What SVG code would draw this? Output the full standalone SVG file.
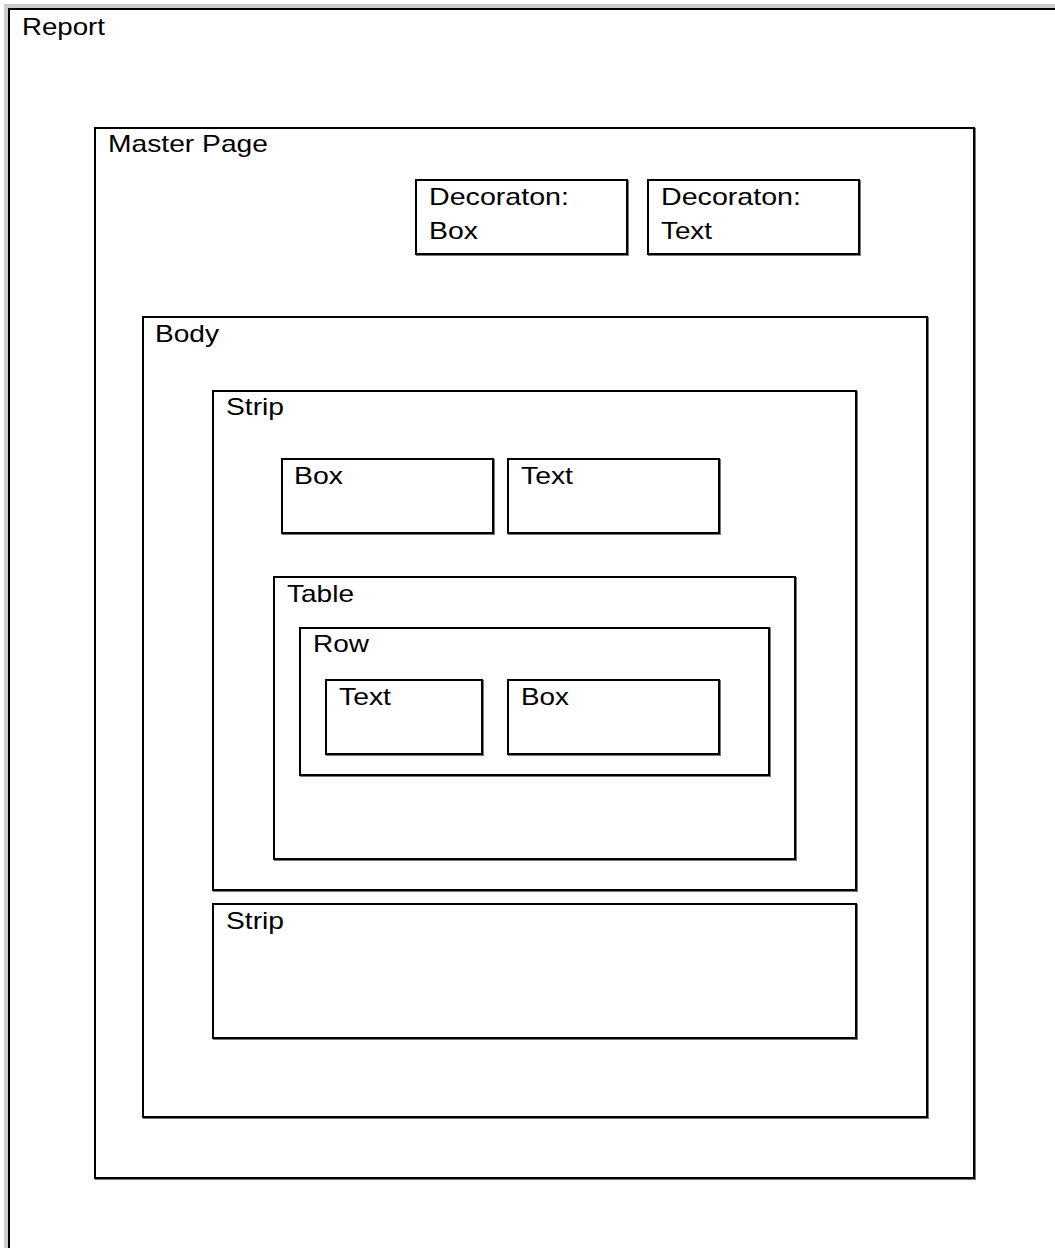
<svg xmlns="http://www.w3.org/2000/svg" width="1055" height="1248" viewBox="0 0 1055 1248">
<style>
.b{fill:#fff;stroke:#000;stroke-width:2}
.s{fill:none;stroke:#777;stroke-width:2}
text{font-family:"Liberation Sans",Arial,sans-serif;font-size:24px;fill:#000}
</style>
<rect x="0" y="0" width="1055" height="1248" fill="#fff"/>
<g id="report">
<rect x="6" y="6" width="1100" height="1300" fill="none" stroke="#ccc" stroke-width="4"/>
<rect class="b" x="9" y="9" width="1100" height="1300"/>
<text x="22" y="35" textLength="83" lengthAdjust="spacingAndGlyphs">Report</text>
</g>
<g id="master">
<rect class="s" x="96" y="129" width="879" height="1050"/>
<rect class="b" x="95" y="128" width="879" height="1050"/>
<text x="108" y="152" textLength="160" lengthAdjust="spacingAndGlyphs">Master Page</text>
</g>
<g id="decoBox">
<rect class="s" x="417" y="181" width="211" height="74"/>
<rect class="b" x="416" y="180" width="211" height="74"/>
<text x="429" y="205" textLength="140" lengthAdjust="spacingAndGlyphs">Decoraton:</text>
<text x="429" y="239" textLength="49" lengthAdjust="spacingAndGlyphs">Box</text>
</g>
<g id="decoText">
<rect class="s" x="649" y="181" width="211" height="74"/>
<rect class="b" x="648" y="180" width="211" height="74"/>
<text x="661" y="205" textLength="140" lengthAdjust="spacingAndGlyphs">Decoraton:</text>
<text x="661" y="239" textLength="51" lengthAdjust="spacingAndGlyphs">Text</text>
</g>
<g id="body">
<rect class="s" x="144" y="318" width="784" height="800"/>
<rect class="b" x="143" y="317" width="784" height="800"/>
<text x="155" y="342" textLength="64" lengthAdjust="spacingAndGlyphs">Body</text>
</g>
<g id="strip1">
<rect class="s" x="214" y="392" width="643" height="499"/>
<rect class="b" x="213" y="391" width="643" height="499"/>
<text x="226" y="415" textLength="58" lengthAdjust="spacingAndGlyphs">Strip</text>
</g>
<g id="box1">
<rect class="s" x="283" y="460" width="211" height="74"/>
<rect class="b" x="282" y="459" width="211" height="74"/>
<text x="294" y="484" textLength="49" lengthAdjust="spacingAndGlyphs">Box</text>
</g>
<g id="text1">
<rect class="s" x="509" y="460" width="211" height="74"/>
<rect class="b" x="508" y="459" width="211" height="74"/>
<text x="521" y="484" textLength="52" lengthAdjust="spacingAndGlyphs">Text</text>
</g>
<g id="table">
<rect class="s" x="275" y="578" width="521" height="282"/>
<rect class="b" x="274" y="577" width="521" height="282"/>
<text x="287" y="602" textLength="67" lengthAdjust="spacingAndGlyphs">Table</text>
</g>
<g id="row">
<rect class="s" x="301" y="629" width="469" height="147"/>
<rect class="b" x="300" y="628" width="469" height="147"/>
<text x="313" y="652" textLength="56" lengthAdjust="spacingAndGlyphs">Row</text>
</g>
<g id="text2">
<rect class="s" x="327" y="681" width="156" height="74"/>
<rect class="b" x="326" y="680" width="156" height="74"/>
<text x="339" y="705" textLength="52" lengthAdjust="spacingAndGlyphs">Text</text>
</g>
<g id="box2">
<rect class="s" x="509" y="681" width="211" height="74"/>
<rect class="b" x="508" y="680" width="211" height="74"/>
<text x="521" y="705" textLength="48" lengthAdjust="spacingAndGlyphs">Box</text>
</g>
<g id="strip2">
<rect class="s" x="214" y="905" width="643" height="134"/>
<rect class="b" x="213" y="904" width="643" height="134"/>
<text x="226" y="929" textLength="58" lengthAdjust="spacingAndGlyphs">Strip</text>
</g>
<g id="connectors"></g>
</svg>
